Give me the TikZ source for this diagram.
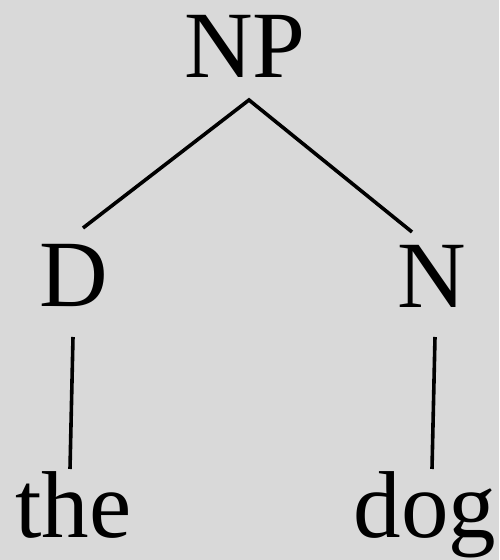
\documentclass[tikz,border=0pt]{standalone}
\usepackage{fontspec}
\setmainfont{Liberation Serif}
\usetikzlibrary{calc}
\definecolor{bg}{HTML}{D9D9D9}
\begin{document}
\begin{tikzpicture}[x=1pt,y=1pt,
  lbl/.style={anchor=base,inner sep=0pt,font=\fontsize{95}{95}\selectfont},
  edge/.style={line width=3.6pt,black}]
\fill[bg] (0,0) rectangle (499,560);
\useasboundingbox (0,0) rectangle (499,560);
\node[lbl] (NP) at (245,482) {NP};
\node[lbl] (D) at (73.5,253) {D};
\node[lbl] (N) at (431.5,252) {N};
\node[lbl] (the) at (73.5,23) {the};
\node[lbl] (dog) at (425,22) {dog};
\coordinate (npb) at ($(NP.base)+(4,-22)$);
\coordinate (dt) at ($(D.base)+(9.5,79)$);
\coordinate (nt) at ($(N.base)+(-19.5,76)$);
\coordinate (db) at ($(D.base)+(-0.5,-30)$);
\coordinate (thet) at ($(the.base)+(-3.5,68)$);
\coordinate (nb) at ($(N.base)+(3.5,-29)$);
\coordinate (dogt) at ($(dog.base)+(7,69)$);
\draw[edge] (dt) -- (npb) -- (nt);
\draw[edge] (db) -- (thet);
\draw[edge] (nb) -- (dogt);
\end{tikzpicture}
\end{document}
